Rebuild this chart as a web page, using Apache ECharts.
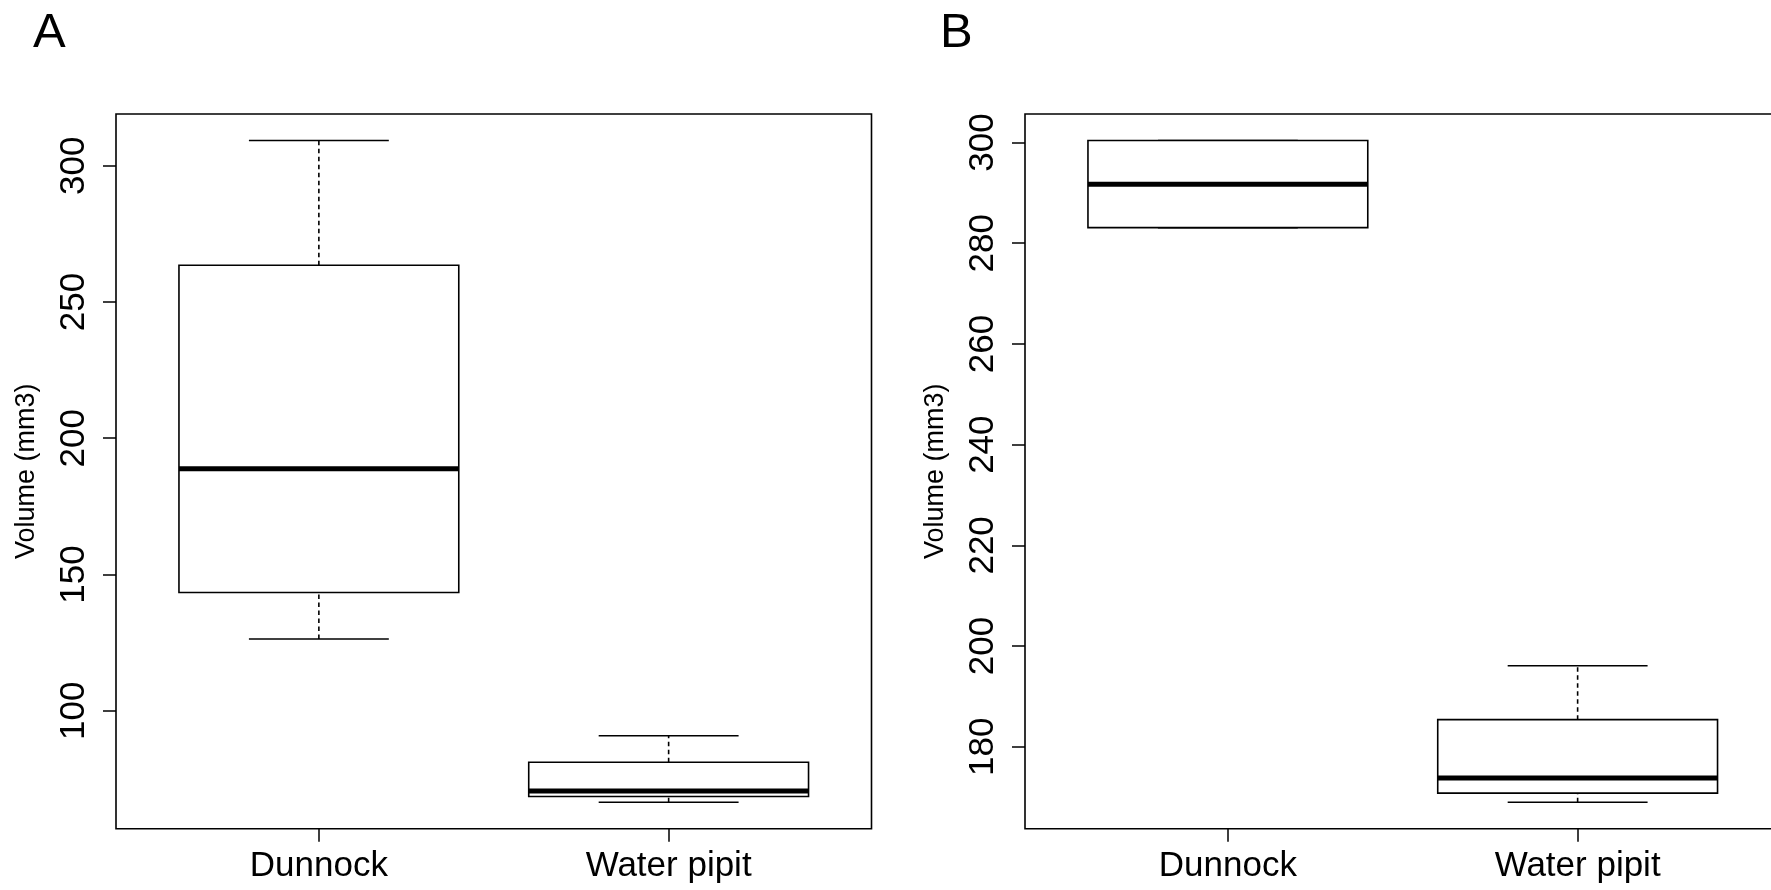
<!DOCTYPE html>
<html>
<head>
<meta charset="utf-8">
<script src="https://cdn.jsdelivr.net/npm/echarts@6/dist/echarts.min.js"></script>
<style>
html,body{margin:0;padding:0;background:#fff;}
#chart{width:1771px;height:890px;}
</style>
</head>
<body>
<div id="chart"></div>
<script>
// ---- data ----
const categories = ['Dunnock', 'Water pipit'];
// each row: [lower whisker, Q1, median, Q3, upper whisker]
const panelA_dunnock = [126.3, 143.4, 188.8, 263.5, 309.3];
const panelA_pipit   = [66.4, 68.5, 70.5, 81.1, 90.8];
const panelB_dunnock = [283.1, 283.1, 291.7, 300.4, 300.4];
const panelB_pipit   = [169.0, 170.8, 173.8, 185.4, 196.1];
const ticksA = [100, 150, 200, 250, 300];
const ticksB = [180, 200, 220, 240, 260, 280, 300];
const panelLabels = ['A', 'B'];
const yTitle = 'Volume (mm3)';

// ---- helpers ----
const FONT = "'Liberation Sans', Arial, sans-serif";
function extRange(rows) {           // R-style 4% range extension
  const all = rows.flat();
  const lo = Math.min(...all), hi = Math.max(...all);
  const d = (hi - lo) * 0.04;
  return [lo - d, hi + d];
}
const rangeA = extRange([panelA_dunnock, panelA_pipit]);
const rangeB = extRange([panelB_dunnock, panelB_pipit]);
const catPos = categories.map((c, i) => i + 1);

function seriesData(rows) {
  return rows.map((r, i) => [catPos[i]].concat(r));
}

function renderBox(params, api) {
  const x = api.value(0);
  const lo = api.value(1), q1 = api.value(2), med = api.value(3), q3 = api.value(4), hi = api.value(5);
  const pL = api.coord([x - 0.4, med]);
  const pR = api.coord([x + 0.4, med]);
  const cx = api.coord([x, med])[0];
  const sL = api.coord([x - 0.2, med])[0];
  const sR = api.coord([x + 0.2, med])[0];
  const yLo = api.coord([x, lo])[1], yQ1 = api.coord([x, q1])[1];
  const yQ3 = api.coord([x, q3])[1], yHi = api.coord([x, hi])[1];
  const yMed = pL[1];
  const stroke = {stroke: '#000', lineWidth: 1.6, fill: null};
  const dash = {stroke: '#000', lineWidth: 1.6, lineDash: [4.5, 3.5]};
  return {
    type: 'group',
    children: [
      {type: 'line', shape: {x1: cx, y1: yQ3, x2: cx, y2: yHi}, style: dash},
      {type: 'line', shape: {x1: cx, y1: yLo, x2: cx, y2: yQ1}, style: dash},
      {type: 'line', shape: {x1: sL, y1: yHi, x2: sR, y2: yHi}, style: stroke},
      {type: 'line', shape: {x1: sL, y1: yLo, x2: sR, y2: yLo}, style: stroke},
      {type: 'rect', shape: {x: pL[0], y: yQ3, width: pR[0] - pL[0], height: yQ1 - yQ3},
        style: {stroke: '#000', lineWidth: 1.6, fill: '#fff'}},
      {type: 'line', shape: {x1: pL[0], y1: yMed, x2: pR[0], y2: yMed},
        style: {stroke: '#000', lineWidth: 5}}
    ]
  };
}

function xAxisDef(gi) {
  return {
    type: 'value', gridIndex: gi, min: 0.42, max: 2.58,
    splitLine: {show: false},
    axisLine: {show: false},
    axisTick: {show: true, inside: false, length: 13, customValues: catPos,
      lineStyle: {color: '#000', width: 1.5}},
    axisLabel: {show: true, customValues: catPos, margin: 20,
      formatter: v => categories[Math.round(v) - 1] || '',
      color: '#000', fontSize: 35, fontFamily: FONT}
  };
}
function yAxisDef(gi, range, ticks) {
  return {
    type: 'value', gridIndex: gi, min: range[0], max: range[1],
    name: yTitle, nameLocation: 'middle', nameRotate: 90, nameGap: 76,
    nameTextStyle: {color: '#000', fontSize: 27, fontFamily: FONT},
    splitLine: {show: false},
    axisLine: {show: false},
    axisTick: {show: true, inside: false, length: 13, customValues: ticks,
      lineStyle: {color: '#000', width: 1.5}},
    axisLabel: {show: true, customValues: ticks, rotate: 90, margin: 24,
      color: '#000', fontSize: 35, fontFamily: FONT}
  };
}

const chart = echarts.init(document.getElementById('chart'), null, {renderer: 'canvas'});
chart.setOption({
  backgroundColor: '#fff',
  animation: false,
  title: [
    {text: panelLabels[0], left: 28, top: 4,
      textStyle: {fontSize: 49, fontWeight: 'normal', color: '#000', fontFamily: FONT}},
    {text: panelLabels[1], left: 935, top: 4,
      textStyle: {fontSize: 49, fontWeight: 'normal', color: '#000', fontFamily: FONT}}
  ],
  grid: [
    {left: 116, top: 114, width: 755.5, height: 714.7, show: true, outerBoundsMode: 'none',
      borderColor: '#000', borderWidth: 1.6, backgroundColor: 'transparent'},
    {left: 1025, top: 114, width: 755.5, height: 714.7, show: true, outerBoundsMode: 'none',
      borderColor: '#000', borderWidth: 1.6, backgroundColor: 'transparent'}
  ],
  xAxis: [xAxisDef(0), xAxisDef(1)],
  yAxis: [yAxisDef(0, rangeA, ticksA), yAxisDef(1, rangeB, ticksB)],
  series: [
    {type: 'custom', xAxisIndex: 0, yAxisIndex: 0, renderItem: renderBox,
      data: seriesData([panelA_dunnock, panelA_pipit]), clip: false},
    {type: 'custom', xAxisIndex: 1, yAxisIndex: 1, renderItem: renderBox,
      data: seriesData([panelB_dunnock, panelB_pipit]), clip: false}
  ]
});
</script>
</body>
</html>
